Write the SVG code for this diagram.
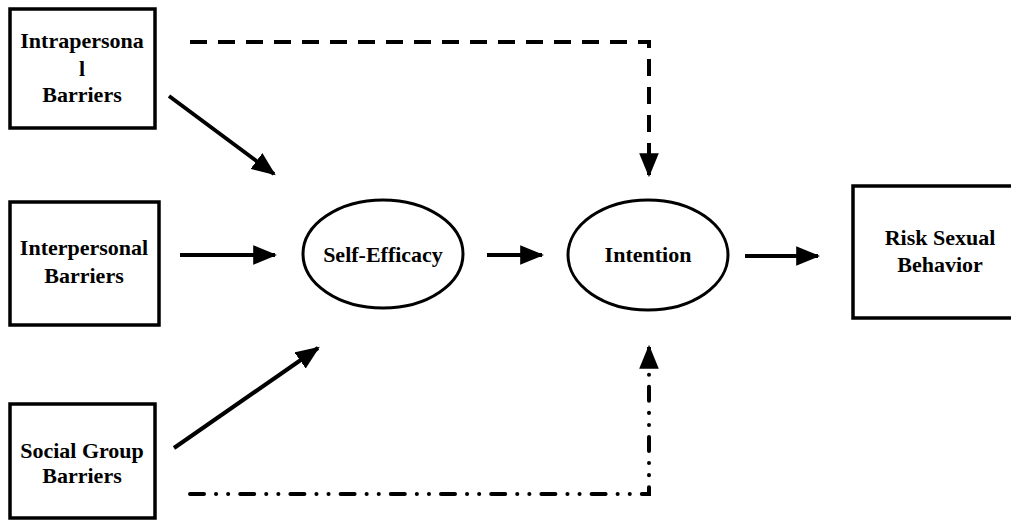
<svg xmlns="http://www.w3.org/2000/svg" width="1011" height="521" viewBox="0 0 1011 521">
  <style>
    .box { fill: #fff; stroke: #000; stroke-width: 3.5; }
    .oval { fill: #fff; stroke: #000; stroke-width: 3; }
    .lbl { font-family: "Liberation Serif", "Times New Roman", serif; font-weight: bold; font-size: 22px; text-anchor: middle; fill: #000; }
    .arrow { fill: none; stroke: #000; stroke-width: 4; }
    .dash { fill: none; stroke: #000; stroke-width: 4; stroke-dasharray: 17 11; }
    .dashdot { fill: none; stroke: #000; stroke-width: 4; stroke-linecap: round; stroke-dasharray: 14 12 0.1 12 0.1 12; }
  </style>
  <defs>
    <marker id="head" markerUnits="userSpaceOnUse" markerWidth="24" markerHeight="20" viewBox="0 0 22 18" refX="20" refY="9" orient="auto">
      <path d="M0,0 L22,9 L0,18 z" fill="#000"/>
    </marker>
  </defs>

  <rect width="1011" height="521" fill="#fff"/>

  <g id="connectors">
    <line class="arrow" x1="169" y1="96" x2="274" y2="174" marker-end="url(#head)"/>
    <line class="arrow" x1="180" y1="255" x2="275" y2="255" marker-end="url(#head)"/>
    <line class="arrow" x1="174" y1="448" x2="318" y2="348" marker-end="url(#head)"/>
    <line class="arrow" x1="487" y1="255" x2="542" y2="255" marker-end="url(#head)"/>
    <line class="arrow" x1="745" y1="256" x2="818" y2="256" marker-end="url(#head)"/>
    <polyline class="dash" points="190,42 649,42 649,160"/>
    <line class="arrow" x1="649" y1="158" x2="649" y2="175" marker-end="url(#head)"/>
    <polyline class="dashdot" points="190,494 649,494 649,362"/>
    <line class="arrow" x1="649" y1="366" x2="649" y2="347" marker-end="url(#head)"/>
  </g>

  <g id="intrapersonal">
    <rect class="box" x="10" y="9" width="145" height="119"/>
    <text class="lbl" x="82" y="48">Intrapersona</text>
    <text class="lbl" x="82" y="76">l</text>
    <text class="lbl" x="82" y="102">Barriers</text>
  </g>

  <g id="interpersonal">
    <rect class="box" x="10" y="202" width="149" height="123"/>
    <text class="lbl" x="84" y="255">Interpersonal</text>
    <text class="lbl" x="84" y="283">Barriers</text>
  </g>

  <g id="social-group">
    <rect class="box" x="10" y="404" width="145" height="114"/>
    <text class="lbl" x="82" y="458">Social Group</text>
    <text class="lbl" x="82" y="483">Barriers</text>
  </g>

  <g id="self-efficacy">
    <ellipse class="oval" cx="383" cy="254" rx="80" ry="54"/>
    <text class="lbl" x="383" y="262">Self-Efficacy</text>
  </g>

  <g id="intention">
    <ellipse class="oval" cx="648" cy="255" rx="80" ry="55"/>
    <text class="lbl" x="648" y="262">Intention</text>
  </g>

  <g id="risk-behavior">
    <rect class="box" x="853" y="186" width="170" height="132"/>
    <text class="lbl" x="940" y="245">Risk Sexual</text>
    <text class="lbl" x="940" y="272">Behavior</text>
  </g>
</svg>
